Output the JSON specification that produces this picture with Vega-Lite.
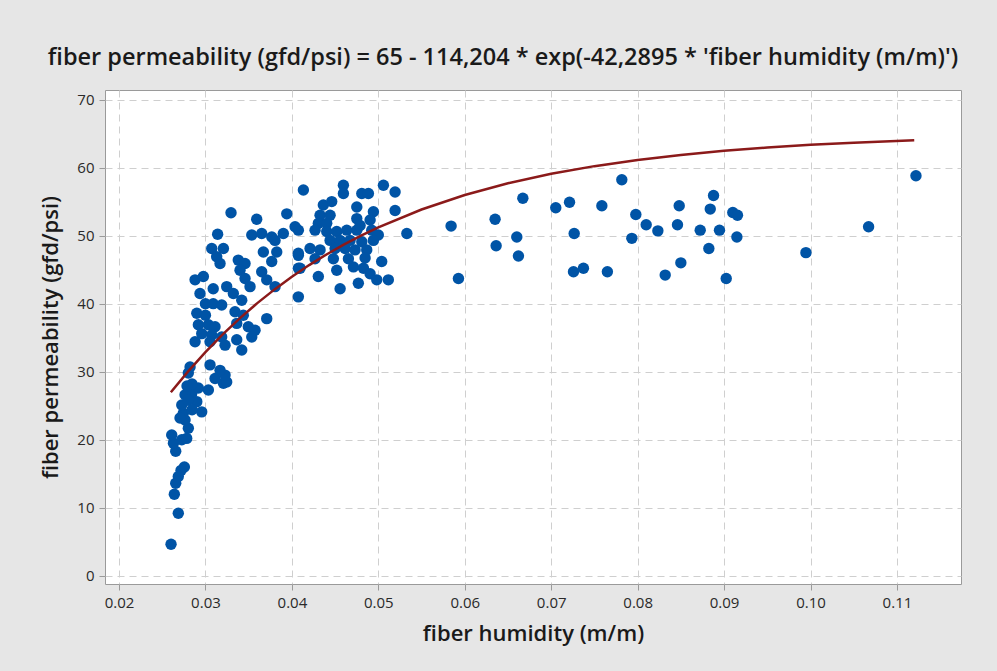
{
  "$schema": "https://vega.github.io/schema/vega-lite/v6.json",
  "width": 856,
  "height": 494,
  "autosize": {"type": "none"},
  "padding": {"left": 105, "top": 90, "right": 36, "bottom": 87},
  "background": "#e6e6e6",
  "title": {
    "text": "fiber permeability (gfd/psi) = 65 - 114,204 * exp(-42,2895 * 'fiber humidity (m/m)')",
    "font": "Open Sans",
    "fontSize": 23.5,
    "fontWeight": 600,
    "color": "#1a1a1a",
    "anchor": "middle",
    "dx": -30,
    "offset": 21
  },
  "config": {
    "view": {"fill": "white", "stroke": "#9a9a9a", "strokeWidth": 1},
    "axis": {
      "domain": false,
      "grid": true,
      "gridColor": "#cfcfcf",
      "gridDash": [7, 5],
      "gridWidth": 1,
      "ticks": true,
      "tickColor": "#9a9a9a",
      "tickSize": 6,
      "labelFont": "Open Sans",
      "labelFontSize": 15,
      "labelColor": "#2a2a2a",
      "labelPadding": 5,
      "titleFont": "Open Sans",
      "titleFontSize": 22,
      "titleFontWeight": 600,
      "titleColor": "#1a1a1a"
    }
  },
  "datasets": {
    "obs": [
      {"humidity": 0.02602, "permeability": 4.65},
      {"humidity": 0.02686, "permeability": 9.2},
      {"humidity": 0.0264, "permeability": 12.0},
      {"humidity": 0.02656, "permeability": 13.6},
      {"humidity": 0.02686, "permeability": 14.6},
      {"humidity": 0.02718, "permeability": 15.5},
      {"humidity": 0.02756, "permeability": 16.0},
      {"humidity": 0.02656, "permeability": 18.3},
      {"humidity": 0.0263, "permeability": 19.5},
      {"humidity": 0.0261, "permeability": 20.7},
      {"humidity": 0.02726, "permeability": 20.0},
      {"humidity": 0.02783, "permeability": 20.2},
      {"humidity": 0.02802, "permeability": 21.7},
      {"humidity": 0.02764, "permeability": 22.9},
      {"humidity": 0.02744, "permeability": 23.9},
      {"humidity": 0.02726, "permeability": 25.1},
      {"humidity": 0.02957, "permeability": 24.1},
      {"humidity": 0.029, "permeability": 25.6},
      {"humidity": 0.02841, "permeability": 26.8},
      {"humidity": 0.02764, "permeability": 26.6},
      {"humidity": 0.02918, "permeability": 27.6},
      {"humidity": 0.03034, "permeability": 27.3},
      {"humidity": 0.03208, "permeability": 28.3},
      {"humidity": 0.02799, "permeability": 25.8},
      {"humidity": 0.02845, "permeability": 28.2},
      {"humidity": 0.02787, "permeability": 27.9},
      {"humidity": 0.02802, "permeability": 29.8},
      {"humidity": 0.02845, "permeability": 24.4},
      {"humidity": 0.02706, "permeability": 23.2},
      {"humidity": 0.03111, "permeability": 29.0},
      {"humidity": 0.03246, "permeability": 28.5},
      {"humidity": 0.03227, "permeability": 29.5},
      {"humidity": 0.03169, "permeability": 30.2},
      {"humidity": 0.03053, "permeability": 31.0},
      {"humidity": 0.02822, "permeability": 30.7},
      {"humidity": 0.03296, "permeability": 53.35},
      {"humidity": 0.03593, "permeability": 52.4},
      {"humidity": 0.03941, "permeability": 53.2},
      {"humidity": 0.04075, "permeability": 50.8},
      {"humidity": 0.03141, "permeability": 50.2},
      {"humidity": 0.03536, "permeability": 50.1},
      {"humidity": 0.03651, "permeability": 50.3},
      {"humidity": 0.03767, "permeability": 49.8},
      {"humidity": 0.03901, "permeability": 50.3},
      {"humidity": 0.03805, "permeability": 49.3},
      {"humidity": 0.03073, "permeability": 48.1},
      {"humidity": 0.03208, "permeability": 48.1},
      {"humidity": 0.0313, "permeability": 46.9},
      {"humidity": 0.03169, "permeability": 45.9},
      {"humidity": 0.0367, "permeability": 47.6},
      {"humidity": 0.03825, "permeability": 47.6},
      {"humidity": 0.03767, "permeability": 46.2},
      {"humidity": 0.04075, "permeability": 47.4},
      {"humidity": 0.0338, "permeability": 46.4},
      {"humidity": 0.03458, "permeability": 45.9},
      {"humidity": 0.034, "permeability": 44.9},
      {"humidity": 0.03458, "permeability": 43.7},
      {"humidity": 0.03516, "permeability": 42.5},
      {"humidity": 0.03651, "permeability": 44.7},
      {"humidity": 0.03709, "permeability": 43.5},
      {"humidity": 0.03805, "permeability": 42.5},
      {"humidity": 0.04075, "permeability": 45.2},
      {"humidity": 0.04075, "permeability": 41.0},
      {"humidity": 0.0288, "permeability": 43.5},
      {"humidity": 0.02976, "permeability": 44.0},
      {"humidity": 0.02937, "permeability": 41.5},
      {"humidity": 0.0309, "permeability": 42.2},
      {"humidity": 0.03246, "permeability": 42.5},
      {"humidity": 0.03323, "permeability": 41.5},
      {"humidity": 0.0342, "permeability": 40.5},
      {"humidity": 0.03, "permeability": 40.0},
      {"humidity": 0.0309, "permeability": 40.0},
      {"humidity": 0.03188, "permeability": 39.8},
      {"humidity": 0.029, "permeability": 38.6},
      {"humidity": 0.03, "permeability": 38.3},
      {"humidity": 0.03342, "permeability": 38.8},
      {"humidity": 0.03438, "permeability": 38.3},
      {"humidity": 0.03709, "permeability": 37.8},
      {"humidity": 0.02918, "permeability": 36.9},
      {"humidity": 0.03034, "permeability": 36.9},
      {"humidity": 0.03111, "permeability": 36.6},
      {"humidity": 0.03362, "permeability": 37.1},
      {"humidity": 0.03496, "permeability": 36.6},
      {"humidity": 0.03574, "permeability": 36.1},
      {"humidity": 0.02957, "permeability": 35.6},
      {"humidity": 0.03073, "permeability": 35.4},
      {"humidity": 0.03188, "permeability": 35.1},
      {"humidity": 0.0288, "permeability": 34.4},
      {"humidity": 0.03053, "permeability": 34.4},
      {"humidity": 0.03227, "permeability": 33.9},
      {"humidity": 0.03362, "permeability": 34.7},
      {"humidity": 0.03536, "permeability": 35.1},
      {"humidity": 0.0342, "permeability": 33.2},
      {"humidity": 0.04133, "permeability": 56.7},
      {"humidity": 0.04596, "permeability": 57.4},
      {"humidity": 0.04596, "permeability": 56.2},
      {"humidity": 0.04809, "permeability": 56.2},
      {"humidity": 0.04885, "permeability": 56.2},
      {"humidity": 0.05059, "permeability": 57.4},
      {"humidity": 0.05194, "permeability": 56.4},
      {"humidity": 0.04364, "permeability": 54.5},
      {"humidity": 0.04461, "permeability": 55.0},
      {"humidity": 0.04751, "permeability": 54.2},
      {"humidity": 0.04943, "permeability": 53.5},
      {"humidity": 0.05194, "permeability": 53.7},
      {"humidity": 0.04326, "permeability": 53.0},
      {"humidity": 0.04442, "permeability": 53.0},
      {"humidity": 0.04751, "permeability": 52.5},
      {"humidity": 0.04905, "permeability": 52.3},
      {"humidity": 0.04306, "permeability": 51.8},
      {"humidity": 0.04403, "permeability": 51.8},
      {"humidity": 0.04037, "permeability": 51.3},
      {"humidity": 0.04268, "permeability": 50.8},
      {"humidity": 0.04403, "permeability": 50.6},
      {"humidity": 0.04519, "permeability": 50.6},
      {"humidity": 0.04635, "permeability": 50.8},
      {"humidity": 0.04751, "permeability": 50.8},
      {"humidity": 0.04924, "permeability": 50.8},
      {"humidity": 0.05, "permeability": 50.1},
      {"humidity": 0.0533, "permeability": 50.3},
      {"humidity": 0.04442, "permeability": 49.3},
      {"humidity": 0.04558, "permeability": 49.3},
      {"humidity": 0.04673, "permeability": 49.3},
      {"humidity": 0.04809, "permeability": 49.1},
      {"humidity": 0.04943, "permeability": 49.3},
      {"humidity": 0.0421, "permeability": 48.1},
      {"humidity": 0.04326, "permeability": 47.9},
      {"humidity": 0.045, "permeability": 48.1},
      {"humidity": 0.04616, "permeability": 48.1},
      {"humidity": 0.04731, "permeability": 47.9},
      {"humidity": 0.04866, "permeability": 47.9},
      {"humidity": 0.04075, "permeability": 47.1},
      {"humidity": 0.04268, "permeability": 46.6},
      {"humidity": 0.0448, "permeability": 46.6},
      {"humidity": 0.04654, "permeability": 46.6},
      {"humidity": 0.05039, "permeability": 46.2},
      {"humidity": 0.04095, "permeability": 45.2},
      {"humidity": 0.04519, "permeability": 44.9},
      {"humidity": 0.04712, "permeability": 45.4},
      {"humidity": 0.04828, "permeability": 45.2},
      {"humidity": 0.04905, "permeability": 44.4},
      {"humidity": 0.04306, "permeability": 44.0},
      {"humidity": 0.04982, "permeability": 43.5},
      {"humidity": 0.05116, "permeability": 43.5},
      {"humidity": 0.04769, "permeability": 43.0},
      {"humidity": 0.04558, "permeability": 42.2},
      {"humidity": 0.04789, "permeability": 51.5},
      {"humidity": 0.04847, "permeability": 46.7},
      {"humidity": 0.05842, "permeability": 51.4},
      {"humidity": 0.05927, "permeability": 43.7},
      {"humidity": 0.06351, "permeability": 52.4},
      {"humidity": 0.06363, "permeability": 48.5},
      {"humidity": 0.06672, "permeability": 55.5},
      {"humidity": 0.06602, "permeability": 49.8},
      {"humidity": 0.06621, "permeability": 47.0},
      {"humidity": 0.07053, "permeability": 54.1},
      {"humidity": 0.07212, "permeability": 54.9},
      {"humidity": 0.07266, "permeability": 50.3},
      {"humidity": 0.07258, "permeability": 44.7},
      {"humidity": 0.07373, "permeability": 45.2},
      {"humidity": 0.07586, "permeability": 54.4},
      {"humidity": 0.0765, "permeability": 44.7},
      {"humidity": 0.07817, "permeability": 58.2},
      {"humidity": 0.07979, "permeability": 53.1},
      {"humidity": 0.07933, "permeability": 49.6},
      {"humidity": 0.08099, "permeability": 51.6},
      {"humidity": 0.08234, "permeability": 50.7},
      {"humidity": 0.08319, "permeability": 44.2},
      {"humidity": 0.08481, "permeability": 54.4},
      {"humidity": 0.08461, "permeability": 51.6},
      {"humidity": 0.085, "permeability": 46.0},
      {"humidity": 0.08878, "permeability": 55.9},
      {"humidity": 0.0884, "permeability": 53.9},
      {"humidity": 0.08724, "permeability": 50.8},
      {"humidity": 0.08947, "permeability": 50.8},
      {"humidity": 0.09101, "permeability": 53.4},
      {"humidity": 0.09155, "permeability": 53.0},
      {"humidity": 0.09148, "permeability": 49.8},
      {"humidity": 0.08824, "permeability": 48.1},
      {"humidity": 0.09025, "permeability": 43.7},
      {"humidity": 0.09947, "permeability": 47.5},
      {"humidity": 0.10672, "permeability": 51.3},
      {"humidity": 0.1122, "permeability": 58.8}
    ],
    "fit": [
      {"humidity": 0.026, "permeability": 26.97},
      {"humidity": 0.028, "permeability": 30.05},
      {"humidity": 0.030, "permeability": 32.88},
      {"humidity": 0.032, "permeability": 35.49},
      {"humidity": 0.034, "permeability": 37.88},
      {"humidity": 0.036, "permeability": 40.08},
      {"humidity": 0.038, "permeability": 42.10},
      {"humidity": 0.040, "permeability": 43.96},
      {"humidity": 0.042, "permeability": 45.67},
      {"humidity": 0.044, "permeability": 47.23},
      {"humidity": 0.046, "permeability": 48.67},
      {"humidity": 0.048, "permeability": 50.00},
      {"humidity": 0.050, "permeability": 51.22},
      {"humidity": 0.055, "permeability": 53.84},
      {"humidity": 0.060, "permeability": 55.97},
      {"humidity": 0.065, "permeability": 57.69},
      {"humidity": 0.070, "permeability": 59.08},
      {"humidity": 0.075, "permeability": 60.21},
      {"humidity": 0.080, "permeability": 61.12},
      {"humidity": 0.085, "permeability": 61.86},
      {"humidity": 0.090, "permeability": 62.46},
      {"humidity": 0.095, "permeability": 62.94},
      {"humidity": 0.100, "permeability": 63.34},
      {"humidity": 0.105, "permeability": 63.65},
      {"humidity": 0.112, "permeability": 64.00}
    ]
  },
  "layer": [
    {
      "data": {"name": "obs"},
      "mark": {"type": "circle", "size": 130, "color": "#0054a6", "opacity": 1},
      "encoding": {
        "x": {
          "field": "humidity",
          "type": "quantitative",
          "title": "fiber humidity (m/m)",
          "scale": {"domain": [0.01838, 0.11741], "nice": false, "zero": false},
          "axis": {"values": [0.02, 0.03, 0.04, 0.05, 0.06, 0.07, 0.08, 0.09, 0.10, 0.11], "format": ".2f", "titlePadding": 13}
        },
        "y": {
          "field": "permeability",
          "type": "quantitative",
          "title": "fiber permeability (gfd/psi)",
          "scale": {"domain": [-1.2, 71.4], "nice": false, "zero": false},
          "axis": {"values": [0, 10, 20, 30, 40, 50, 60, 70], "titlePadding": 14}
        }
      }
    },
    {
      "data": {"name": "fit"},
      "mark": {"type": "line", "color": "#8b1a1a", "strokeWidth": 2.5},
      "encoding": {
        "x": {"field": "humidity", "type": "quantitative"},
        "y": {"field": "permeability", "type": "quantitative"}
      }
    }
  ]
}
